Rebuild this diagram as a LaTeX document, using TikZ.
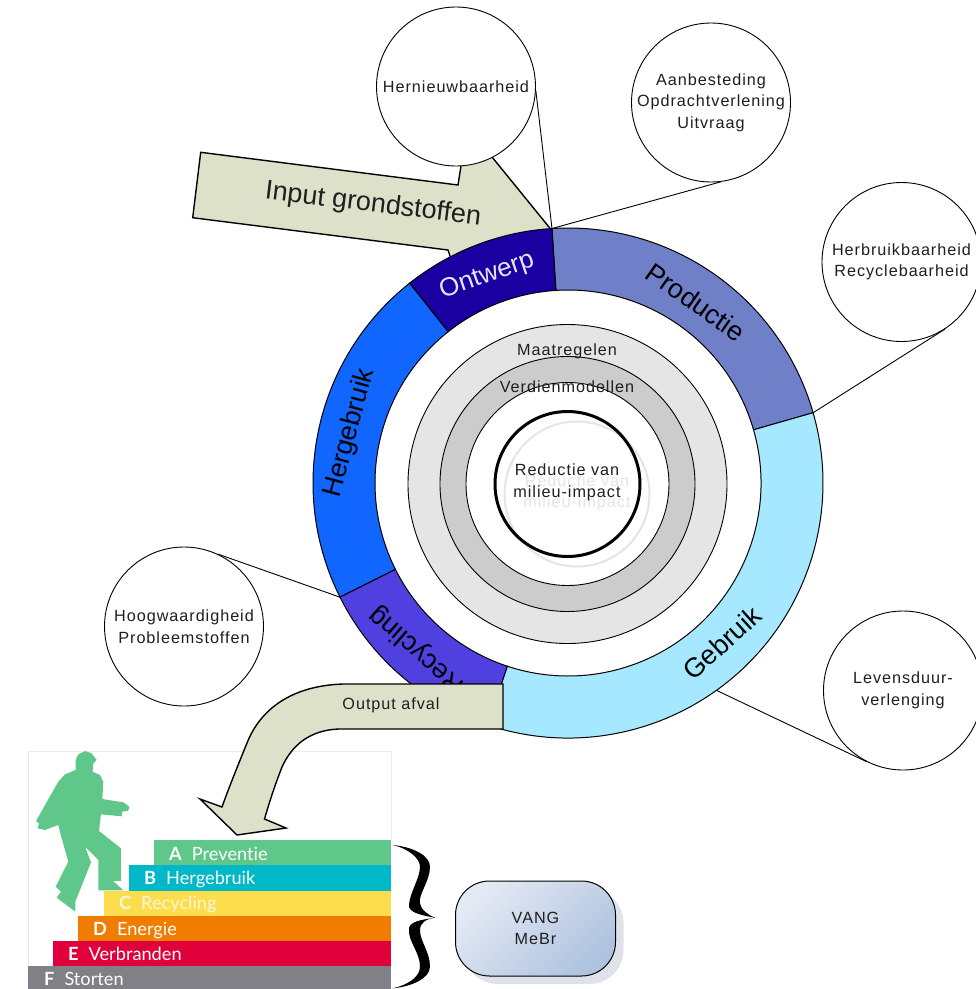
\documentclass[tikz,border=0pt]{standalone}
\usepackage{fontspec}
\setmainfont{Liberation Sans}
\newfontfamily\smallfont[LetterSpace=6]{Liberation Sans}
\newfontfamily\stepfont[Ligatures=NoCommon]{Lato}
\usetikzlibrary{shadows}
\definecolor{arrowfill}{HTML}{DDE1C9}
\definecolor{ontwerpcol}{HTML}{1A00A0}
\definecolor{productiecol}{HTML}{7080C8}
\definecolor{gebruikcol}{HTML}{A5E8FF}
\definecolor{recyclingcol}{HTML}{5040E0}
\definecolor{hergebruikcol}{HTML}{1166FF}
\definecolor{stepa}{HTML}{5FC78A}
\definecolor{stepb}{HTML}{00B8C8}
\definecolor{stepc}{HTML}{FBDD4E}
\definecolor{stepd}{HTML}{F07C00}
\definecolor{stepe}{HTML}{E0003C}
\definecolor{stepf}{HTML}{808086}
\definecolor{boxlight}{HTML}{E4E9F4}
\definecolor{boxdark}{HTML}{AFC3DF}
\definecolor{boxshadow}{HTML}{DFE2E8}

\begin{document}
\begin{tikzpicture}
    [x=1pt,y=-1pt,
      bubble/.style={circle,draw,fill=white,inner sep=0pt,minimum size=159pt,line width=0.9pt,
          text=black!88,align=center,font=\smallfont\fontsize{16.2}{21.5}\selectfont},
      ringdisc/.style={circle,draw,inner sep=0pt,line width=0.9pt},
      ringpart/.style={draw,line width=1pt},
      ringname/.style={inner sep=0pt,font=\fontsize{27}{27}\selectfont},
      innername/.style={inner sep=0pt,text=black!88,align=center,font=\smallfont\fontsize{16.2}{21.5}\selectfont},
      flowarrow/.style={draw,fill=arrowfill,line width=1.4pt,line join=miter},
      stepname/.style={anchor=base west,inner sep=0pt,text=white,font=\stepfont\fontsize{18.2}{19}\selectfont},
      leader/.style={draw,line width=0.9pt}
    ]
    \useasboundingbox (0,0) rectangle (976,989);

    % input arrow, runs under the ring and the first bubble
    \draw [flowarrow] (200.7,152.3) -- (458,185) -- (461,166) -- (466,125) -- (551,229.5)
      -- (452,262) -- (448,250) -- (192.7,217.7) -- cycle;
    \node [rotate=-7,inner sep=0pt,text=black!88,font=\fontsize{27}{27}\selectfont] (inputname) at (373,205) {Input grondstoffen};

    % ring around the hub, angles counted from the hub
    \begin{scope}[shift={(568,483)},y=1pt]
      \draw [ringpart,fill=productiecol] (16:255) arc[start angle=16,end angle=93.6,radius=255]
        -- (93.6:193) arc[start angle=93.6,end angle=16,radius=193] -- cycle;
      \draw [ringpart,fill=ontwerpcol] (93.6:255) arc[start angle=93.6,end angle=128.4,radius=255]
        -- (128.4:193) arc[start angle=128.4,end angle=93.6,radius=193] -- cycle;
      \draw [ringpart,fill=hergebruikcol] (128.4:255) arc[start angle=128.4,end angle=206.6,radius=255]
        -- (206.6:193) arc[start angle=206.6,end angle=128.4,radius=193] -- cycle;
      \draw [ringpart,fill=recyclingcol] (206.6:255) arc[start angle=206.6,end angle=251.7,radius=255]
        -- (251.7:193) arc[start angle=251.7,end angle=206.6,radius=193] -- cycle;
      \draw [ringpart,fill=gebruikcol] (251.7:255) arc[start angle=251.7,end angle=376,radius=255]
        -- (376:193) arc[start angle=376,end angle=251.7,radius=193] -- cycle;
      \coordinate (tiptop) at (93.6:255);
      \coordinate (tipright) at (16:255);
      \coordinate (tipleft) at (206.6:255);
      \coordinate (tiplow) at (305.6:255);
    \end{scope}
    \node [ringname,rotate=19,text=white!90!blue,font=\fontsize{26}{26}\selectfont] (ontwerp) at (487,276) {Ontwerp};
    \node [ringname,rotate=-35] (productie) at (696,302) {Productie};
    \node [ringname,rotate=42] (gebruik) at (722,643) {Gebruik};
    \node [ringname,rotate=138.7] (recycling) at (417,650) {Recycling};
    \node [ringname,rotate=75] (hergebruik) at (350,433) {Hergebruik};

    % hub
    \node [ringdisc,fill=black!10,minimum size=319pt] (maat) at (567.5,484) {};
    \node [ringdisc,fill=black!20,minimum size=255pt] (verdien) at (567.5,484) {};
    \node [ringdisc,fill=white,minimum size=203pt] (open) at (567.5,484) {};
    \node [circle,draw=black!10,line width=2pt,inner sep=0pt,minimum size=145pt] (echo) at (577,494) {};
    \node [innername,text=black!10] (echoname) at (577,493) {Reductie van\\milieu-impact};
    \node [circle,draw,line width=3pt,inner sep=0pt,minimum size=145pt] (core) at (567.5,484) {};
    \node [innername] (corename) at (567,482.5) {Reductie van\\milieu-impact};
    \node [innername] (maatname) at (567,351) {Maatregelen};
    \node [innername] (verdienname) at (567,387) {Verdienmodellen};

    % leaders
    \node [bubble] (hern) at (456,86.5) {Hernieuwbaarheid};
    \node [bubble] (aanb) at (711,102.5) {Aanbesteding\\Opdrachtverlening\\Uitvraag};
    \node [bubble] (herb) at (901.5,262) {Herbruikbaarheid\\Recyclebaarheid};
    \node [bubble] (lev) at (903,690.5) {Levensduur-\\verlenging};
    \node [bubble] (hoog) at (184,626.5) {Hoogwaardigheid\\Probleemstoffen};
    \draw [leader] (hern.-3) -- (tiptop);
    \draw [leader] (aanb.-83) -- (tiptop);
    \draw [leader] (herb.-57) -- (tipright);
    \draw [leader] (lev.-117) -- (tiplow);
    \draw [leader] (hoog.65) -- (tipleft);

    % ladder
    \draw [black!8,line width=1pt] (28,989) -- (28,751) -- (391,751) -- (391,840);
    \fill [stepa] (154,840) rectangle (391,865);
    \fill [stepb] (129,865) rectangle (391,891);
    \fill [stepc] (104,891) rectangle (391,916);
    \fill [stepd] (78,916) rectangle (391,941);
    \fill [stepe] (53,941) rectangle (391,966);
    \fill [stepf] (28,966) rectangle (391,989);
    \node [stepname] (stepaname) at (169,860) {\textbf{A}\hspace{10pt}Preventie};
    \node [stepname] (stepbname) at (144,884) {\textbf{B}\hspace{10pt}Hergebruik};
    \node [stepname,text=white!75!stepc] (stepcname) at (119,909) {\textbf{C}\hspace{10pt}Recycling};
    \node [stepname] (stepdname) at (93,935) {\textbf{D}\hspace{10pt}Energie};
    \node [stepname] (stepename) at (68,960) {\textbf{E}\hspace{10pt}Verbranden};
    \node [stepname] (stepfname) at (44,985) {\textbf{F}\hspace{10pt}Storten};

    % figure on the ladder
    \begin{scope}[shift={(25,745)},x=0.3333pt,y=-0.3333pt]
      \fill [stepa] (152,75) -- (152,45) -- (160,28) -- (180,18) -- (200,25) -- (215,45) -- (205,55)
        -- (203,80) -- (225,90) -- (235,110) -- (232,162) -- (295,172) -- (313,185) -- (310,197)
        -- (292,200) -- (290,214) -- (228,208) -- (222,258) -- (288,310) -- (288,408) -- (265,408)
        -- (295,436) -- (220,436) -- (220,345) -- (180,305) -- (198,352) -- (151,470) -- (151,500)
        -- (95,458) -- (108,440) -- (92,425) -- (130,350) -- (105,262) -- (100,240) -- (60,255)
        -- (38,250) -- (42,235) -- (33,228) -- (100,110) -- (120,88) -- cycle;
    \end{scope}

    % output arrow, lies on top of the ring
    \draw [flowarrow] (503,684) -- (343,684) .. controls (285,686) and (258,715) .. (247,743)
      .. controls (238,765) and (228,790) .. (222,807) -- (200,799) -- (237,835) -- (286,828)
      -- (264.5,819) .. controls (270,800) and (275,785) .. (282,767)
      .. controls (292,745) and (310,730) .. (339,729) -- (503,729) -- cycle;
    \node [innername] (outputname) at (391,705) {Output afval};

    % brace
    \begin{scope}[shift={(385,835)},x=0.3333pt,y=-0.3333pt]
      \fill (22,30) .. controls (80,35) and (135,60) .. (135,95)
        .. controls (135,140) and (100,175) .. (105,205)
        .. controls (108,225) and (130,240) .. (150,248)
        .. controls (125,252) and (105,262) .. (105,285)
        .. controls (105,320) and (135,350) .. (135,395)
        .. controls (135,430) and (80,455) .. (22,460)
        .. controls (70,450) and (105,425) .. (105,395)
        .. controls (105,350) and (68,320) .. (72,280)
        .. controls (75,260) and (105,255) .. (150,248)
        .. controls (100,240) and (70,230) .. (72,210)
        .. controls (75,170) and (105,130) .. (105,95)
        .. controls (105,70) and (70,40) .. (22,30) -- cycle;
    \end{scope}

    \node [draw,line width=1pt,rounded corners=34pt,minimum width=160pt,minimum height=95pt,inner sep=0pt,
      left color=boxlight,right color=boxdark,shading angle=45,
      drop shadow={shadow xshift=8pt,shadow yshift=-8pt,fill=boxshadow,opacity=1},
      text=black!88,align=center,font=\smallfont\fontsize{16.2}{21.5}\selectfont] (vang) at (535.5,928.5) {VANG\\MeBr};
  \end{tikzpicture}
\end{document}
